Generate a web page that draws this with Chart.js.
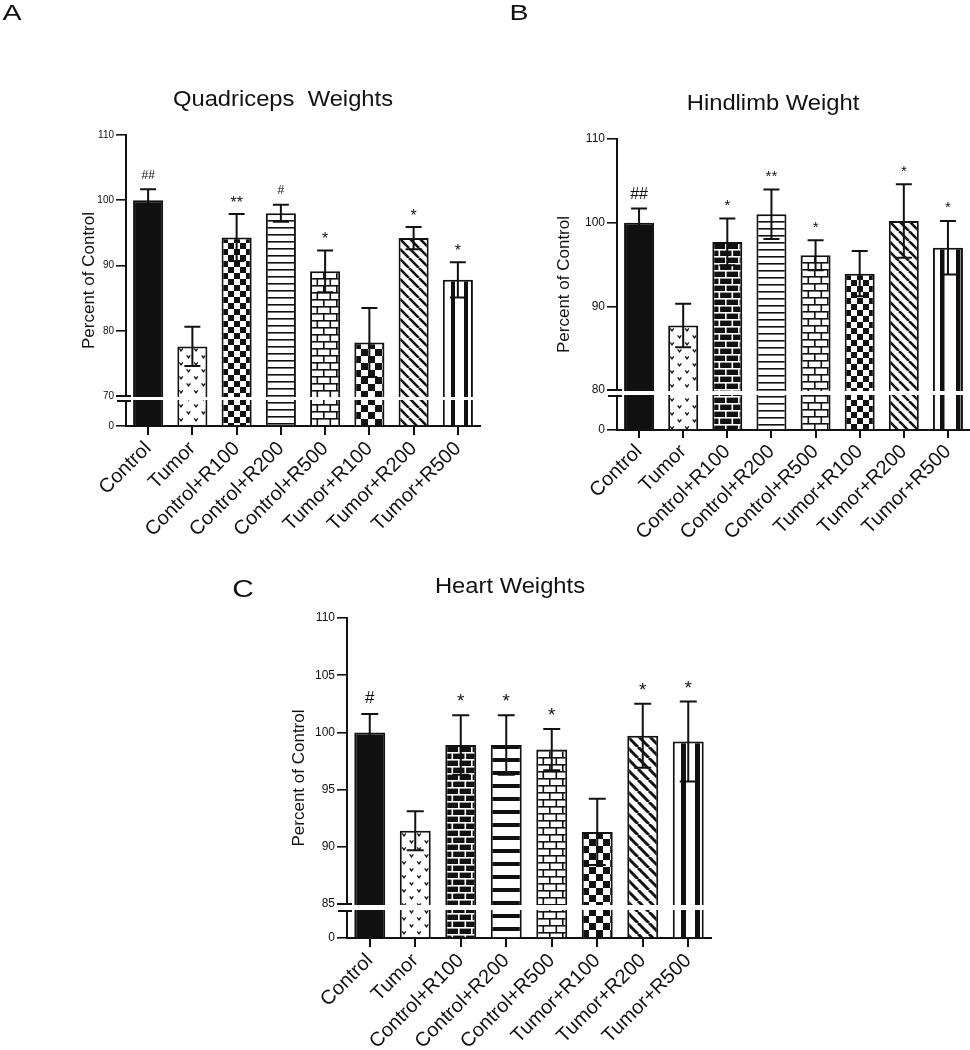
<!DOCTYPE html>
<html>
<head>
<meta charset="utf-8">
<script src="https://cdn.jsdelivr.net/npm/chart.js@4.4.1/dist/chart.umd.min.js"></script>
<style>
  html, body { margin: 0; padding: 0; background: #fff; }
  body { width: 970px; height: 1050px; position: relative; overflow: hidden; }
  canvas { position: absolute; }
</style>
</head>
<body>
<canvas id="quad" width="485" height="560" style="left:0;top:0"></canvas>
<canvas id="hind" width="485" height="560" style="left:485px;top:0"></canvas>
<canvas id="heart" width="540" height="490" style="left:200px;top:560px"></canvas>
<script>
// data (percent of control, mean and SEM)
const categories = ['Control', 'Tumor', 'Control+R100', 'Control+R200', 'Control+R500', 'Tumor+R100', 'Tumor+R200', 'Tumor+R500'];

const quadMeans = [100, 77.6, 94.3, 98.0, 89.1, 78.2, 94.2, 87.8];
const quadErrors = [1.7, 3.0, 3.6, 1.3, 3.2, 5.3, 1.7, 2.7];
const quadMarks = ['##', '', '**', '#', '*', '', '*', '*'];
const quadTicks = [0, 70, 80, 90, 100, 110];

const hindMeans = [100, 87.7, 97.7, 101.0, 96.1, 93.9, 100.2, 97.0];
const hindErrors = [1.7, 2.6, 2.8, 2.95, 1.8, 2.7, 4.4, 3.2];
const hindMarks = ['##', '', '*', '**', '*', '', '*', '*'];
const hindTicks = [0, 80, 90, 100, 110];

const heartMeans = [100, 91.4, 98.9, 98.9, 98.5, 91.3, 99.7, 99.2];
const heartErrors = [1.6, 1.7, 2.6, 2.6, 1.8, 2.9, 2.8, 3.5];
const heartMarks = ['#', '', '*', '*', '*', '', '*', '*'];
const heartTicks = [0, 85, 90, 95, 100, 105, 110];

const INK = '#111';
const FONT = '"Liberation Sans", Arial, Helvetica, sans-serif';
Chart.defaults.font.family = FONT;
Chart.defaults.color = INK;

// linear scale with a broken segment: values below brk.at squeezed into lowPx at the bottom
class BrokenScale extends Chart.LinearScale {
  getPixelForValue(value) {
    if (value === null || value === undefined) return NaN;
    const b = this.options.brk;
    if (value < b.at) {
      return this.bottom - (value - this.min) / (b.at - this.min) * b.lowPx;
    }
    const base = this.bottom - b.lowPx - b.gap;
    return base - (value - b.at) / (this.max - b.at) * (base - this.top);
  }
  getValueForPixel(pixel) {
    const b = this.options.brk;
    const base = this.bottom - b.lowPx - b.gap;
    if (pixel > base) return this.min + (this.bottom - pixel) / b.lowPx * (b.at - this.min);
    return b.at + (base - pixel) / (base - this.top) * (this.max - b.at);
  }
}
BrokenScale.id = 'broken';
BrokenScale.defaults = {};
Chart.register(BrokenScale);

// fill patterns
const scratch = document.createElement('canvas').getContext('2d');
function tile(w, h, bg, draw) {
  const c = document.createElement('canvas');
  c.width = w; c.height = h;
  const g = c.getContext('2d');
  g.fillStyle = bg; g.fillRect(0, 0, w, h);
  g.fillStyle = g.strokeStyle = (bg === '#fff') ? INK : '#fff';
  draw(g, w, h);
  return scratch.createPattern(c, 'repeat');
}
const solid = () => INK;
const vee = () => tile(15, 14, '#fff', g => {
  g.lineWidth = 1.3;
  [[4, 3.5], [11.5, 10.5]].forEach(([x, y]) => {
    g.beginPath(); g.moveTo(x - 1.8, y - 1.2); g.lineTo(x, y + 1.4); g.lineTo(x + 1.8, y - 1.2); g.stroke();
  });
});
const checker = s => tile(2 * s, 2 * s, '#fff', g => { g.fillRect(0, 0, s, s); g.fillRect(s, s, s, s); });
const hlines = (p, t) => tile(4, p, '#fff', g => g.fillRect(0, 0, 4, t));
const brick = (h, w, bg) => tile(w, 2 * h, bg, g => {
  const t = 1.6;
  g.fillRect(0, 0, w, t); g.fillRect(0, h, w, t);
  g.fillRect(0, 0, t, h); g.fillRect(w / 2, h, t, h);
});
const diag = (s, t) => tile(s, s, '#fff', g => {
  g.lineWidth = t;
  for (const k of [-s, 0, s]) { g.beginPath(); g.moveTo(k, 0); g.lineTo(k + s, s); g.stroke(); }
});
const vbands = (p, x0, bw) => tile(p, 4, '#fff', g => g.fillRect(x0, 0, bw, 4));

function drawStretched(ctx, text, x, y, size, sx) {
  ctx.save();
  ctx.translate(x, y);
  ctx.scale(sx, 1);
  ctx.font = `${size}px ${FONT}`;
  ctx.fillStyle = INK;
  ctx.textAlign = 'center';
  ctx.textBaseline = 'alphabetic';
  ctx.fillText(text, 0, 0);
  ctx.restore();
}

const decor = {
  id: 'decor',
  beforeDatasetsDraw(chart) {
    // anchor each bar's pattern to its own top-left corner
    const ds = chart.data.datasets[0];
    chart.getDatasetMeta(0).data.forEach((bar, i) => {
      const fill = ds.backgroundColor[i];
      if (fill instanceof CanvasPattern) {
        fill.setTransform(new DOMMatrix([1, 0, 0, 1, Math.round(bar.x - bar.width / 2), Math.round(bar.y)]));
      }
    });
  },
  afterDatasetsDraw(chart, args, opts) {
    const { ctx, chartArea: area } = chart;
    const xs = chart.scales.x, ys = chart.scales.y;
    const ds = chart.data.datasets[0];
    const brk = ys.options.brk;
    ctx.save();
    ctx.strokeStyle = INK;
    ctx.lineWidth = 2;

    // error bars
    const half = opts.cap / 2;
    ds.data.forEach((m, i) => {
      const x = xs.getPixelForValue(i);
      const hi = ys.getPixelForValue(m + ds.errorBars[i]);
      const lo = ys.getPixelForValue(m - ds.errorBars[i]);
      ctx.beginPath();
      ctx.moveTo(x, hi); ctx.lineTo(x, lo);
      ctx.moveTo(x - half, hi); ctx.lineTo(x + half, hi);
      ctx.moveTo(x - half, lo); ctx.lineTo(x + half, lo);
      ctx.stroke();
    });

    // axis break
    const yHi = ys.getPixelForValue(brk.at);
    const yLo = ys.bottom - brk.lowPx;
    ctx.fillStyle = '#fff';
    ctx.fillRect(area.left - 3, yHi + 1, area.right - area.left + 4, yLo - yHi - 2);
    ctx.lineWidth = 1.8;
    ctx.beginPath();
    ctx.moveTo(area.left - opts.tick, yHi); ctx.lineTo(area.left + 5, yHi);
    ctx.moveTo(area.left - opts.tick + 1, yLo); ctx.lineTo(area.left + 5, yLo);
    ctx.stroke();

    // significance marks
    ctx.fillStyle = INK;
    ctx.textAlign = 'center';
    ctx.textBaseline = 'alphabetic';
    ds.marks.forEach((mk, i) => {
      if (!mk) return;
      const size = mk.includes('*') ? opts.starSize : opts.hashSize;
      ctx.font = `${size}px ${FONT}`;
      const mt = ctx.measureText(mk);
      const mid = ys.getPixelForValue(ds.data[i] + ds.errorBars[i]) - opts.markGap;
      ctx.fillText(mk, xs.getPixelForValue(i), mid + (mt.actualBoundingBoxAscent - mt.actualBoundingBoxDescent) / 2);
    });
    ctx.restore();
  },
  afterDraw(chart, args, opts) {
    const ctx = chart.ctx;
    drawStretched(ctx, opts.letter, opts.letterPos[0], opts.letterPos[1], opts.letterSize, 1.3);
    drawStretched(ctx, opts.title, opts.titlePos[0], opts.titlePos[1], 22, 1.08);
  }
};

function makeChart(id, cfg) {
  return new Chart(document.getElementById(id), {
    type: 'bar',
    data: {
      labels: categories,
      datasets: [{
        data: cfg.means,
        errorBars: cfg.errors,
        marks: cfg.marks,
        backgroundColor: cfg.fills,
        borderColor: INK,
        borderWidth: 2,
        barPercentage: 0.68,
        categoryPercentage: 1
      }]
    },
    options: {
      responsive: false,
      animation: false,
      devicePixelRatio: 1,
      layout: { padding: cfg.padding },
      plugins: {
        legend: { display: false },
        tooltip: { enabled: false },
        decor: cfg.decor
      },
      scales: {
        x: {
          offset: true,
          grid: { offset: false, drawOnChartArea: false, drawTicks: true, tickLength: cfg.xTick, color: INK, lineWidth: 2 },
          border: { color: INK, width: 2 },
          ticks: { autoSkip: false, minRotation: 45, maxRotation: 45, color: INK, font: { size: 20 }, padding: 2 },
          afterFit(s) { s.height = cfg.xHeight; s.paddingLeft = 0; s.paddingRight = 0; }
        },
        y: {
          type: 'broken',
          min: 0,
          max: 110,
          brk: cfg.brk,
          afterBuildTicks(s) { s.ticks = cfg.ticks.map(v => ({ value: v })); },
          afterFit(s) { s.width = cfg.yWidth; },
          grid: { drawOnChartArea: false, drawTicks: true, tickLength: 10, color: INK, lineWidth: 1.6 },
          border: { color: INK, width: 2 },
          ticks: { autoSkip: false, color: INK, font: { size: cfg.yTickSize }, padding: 2, callback: v => String(v) },
          title: { display: true, text: 'Percent of Control', color: INK, font: { size: 17 }, padding: { top: 4, bottom: 0 } }
        }
      }
    },
    plugins: [decor]
  });
}

makeChart('quad', {
  means: quadMeans, errors: quadErrors, marks: quadMarks, ticks: quadTicks,
  fills: [solid(), vee(), checker(6), hlines(7, 1.6), brick(7, 13, '#fff'), checker(7), diag(10, 2.6), vbands(13, 8, 4)],
  brk: { at: 70, lowPx: 25, gap: 5 },
  padding: { left: 75, right: 5, top: 135, bottom: 0 },
  yWidth: 51, xHeight: 134, xTick: 9, yTickSize: 10,
  decor: { cap: 16, tick: 10, markGap: 15, starSize: 16, hashSize: 12,
           letter: 'A', letterPos: [12, 20], letterSize: 22, title: 'Quadriceps  Weights', titlePos: [283, 106] }
});

makeChart('hind', {
  means: hindMeans, errors: hindErrors, marks: hindMarks, ticks: hindTicks,
  fills: [solid(), vee(), brick(7, 13, INK), hlines(7, 1.6), brick(7, 13, '#fff'), checker(6), diag(10, 2.6), vbands(16, 7, 4.5)],
  brk: { at: 80, lowPx: 34, gap: 6 },
  padding: { left: 65, right: 0, top: 139, bottom: 0 },
  yWidth: 67, xHeight: 130, xTick: 8, yTickSize: 12,
  decor: { cap: 16, tick: 10, markGap: 15.5, starSize: 15, hashSize: 16,
           letter: 'B', letterPos: [34, 20], letterSize: 22, title: 'Hindlimb Weight', titlePos: [288, 110] }
});

makeChart('heart', {
  means: heartMeans, errors: heartErrors, marks: heartMarks, ticks: heartTicks,
  fills: [solid(), vee(), brick(7, 13, INK), hlines(13, 4), brick(7, 13, '#fff'), checker(7), diag(11, 3), vbands(14, 8, 5)],
  brk: { at: 85, lowPx: 27, gap: 7 },
  padding: { left: 85, right: 29, top: 58, bottom: 0 },
  yWidth: 62, xHeight: 112, xTick: 9, yTickSize: 12,
  decor: { cap: 17, tick: 10, markGap: 17.5, starSize: 19, hashSize: 17,
           letter: 'C', letterPos: [43, 37], letterSize: 23, title: 'Heart Weights', titlePos: [310, 33] }
});
</script>
</body>
</html>
